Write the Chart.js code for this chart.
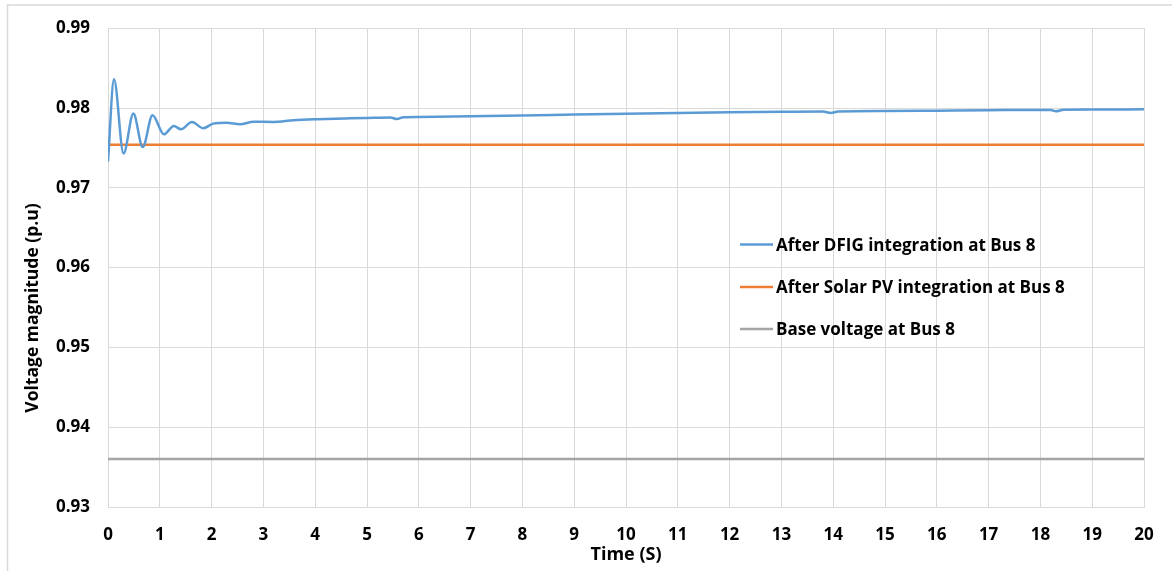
<!DOCTYPE html>
<html>
<head>
<meta charset="utf-8">
<script src="https://cdn.jsdelivr.net/npm/chart.js@4"></script>
<style>
  body { margin: 0; background: #fff; }
  #wrap { width: 1172px; height: 571px; position: relative; }
</style>
</head>
<body>
<div id="wrap"><canvas id="voltChart"></canvas></div>
<script>
// Datos
const seriesNames = [
    'After DFIG integration at Bus 8',
    'After Solar PV integration at Bus 8',
    'Base voltage at Bus 8'
];
const xTitle = 'Time (S)';
const yTitle = 'Voltage magnitude (p.u)';

const dfigTime = [0, 0.116, 0.30, 0.49, 0.67, 0.86, 1.08, 1.27, 1.41, 1.62, 1.84, 2.03, 2.29, 2.55, 2.81,
    3.19, 3.58, 4.03, 4.67, 5.0, 5.45, 5.58, 5.7, 6, 7, 8, 9, 10, 11, 12, 13, 13.8, 13.95, 14.1,
    15, 16, 17, 18, 18.2, 18.3, 18.45, 19, 20];
const dfigVolt = [0.9733, 0.9836, 0.9743, 0.9793, 0.9751, 0.9791, 0.9767, 0.97775, 0.97734, 0.97825, 0.97746,
    0.97804, 0.97816, 0.97796, 0.97829, 0.97825, 0.97846, 0.97859, 0.97871, 0.97876, 0.97882, 0.97862,
    0.97884, 0.97888, 0.97897, 0.97906, 0.97918, 0.97929, 0.97938, 0.97946, 0.97952, 0.97956, 0.97938,
    0.97956, 0.97962, 0.97967, 0.97972, 0.97976, 0.97976, 0.97958, 0.97978, 0.9798, 0.97984];

const endTime = [0, 20];
const solarVolt = [0.97538, 0.97538];
const baseVolt = [0.936, 0.936];

const xTicks = { min: 0, max: 20, step: 1 };
const yTicks = { min: 0.93, max: 0.99, step: 0.01 };

const colors = ['#5B9BD5', '#ED7D31', '#A5A5A5'];
const fontFam = '"Open Sans", Lato, sans-serif';

function toPoints(xs, ys) {
    return xs.map((x, i) => ({ x: x, y: ys[i] }));
}

// Leyenda dibujada dentro del area del grafico + titulo del eje Y
const insideLegend = {
    id: 'insideLegend',
    afterDraw(chart) {
        const ctx = chart.ctx;
        const rows = [244.5, 287, 329];
        ctx.save();
        ctx.font = 'bold 17px ' + fontFam;
        ctx.textBaseline = 'middle';
        ctx.textAlign = 'left';
        chart.data.datasets.forEach((ds, i) => {
            ctx.strokeStyle = ds.borderColor;
            ctx.lineWidth = 2.5;
            ctx.beginPath();
            ctx.moveTo(740, rows[i]);
            ctx.lineTo(773, rows[i]);
            ctx.stroke();
            ctx.fillStyle = '#000';
            ctx.fillText(ds.label, 776, rows[i] + 1.5);
        });
        // titulo del eje Y (desplazado hacia abajo como en el original)
        ctx.translate(33, 308);
        ctx.rotate(-Math.PI / 2);
        ctx.textAlign = 'center';
        ctx.font = 'bold 17.5px ' + fontFam;
        ctx.fillText(yTitle, 0, 0);
        ctx.restore();
    }
};

const frame = {
    id: 'frame',
    beforeDraw(chart) {
        const ctx = chart.ctx;
        ctx.save();
        ctx.fillStyle = '#fff';
        ctx.fillRect(0, 0, chart.width, chart.height);
        ctx.strokeStyle = '#d9d9d9';
        ctx.lineWidth = 1.5;
        ctx.strokeRect(7.5, 5, chart.width + 10, chart.height + 10);
        ctx.restore();
    }
};

window.onload = function() {
    const ctx = document.getElementById('voltChart').getContext('2d');
    new Chart(ctx, {
        type: 'line',
        data: {
            datasets: [{
                label: seriesNames[0],
                data: toPoints(dfigTime, dfigVolt),
                borderColor: colors[0],
                borderWidth: 2.5,
                pointRadius: 0,
                cubicInterpolationMode: 'monotone'
            }, {
                label: seriesNames[1],
                data: toPoints(endTime, solarVolt),
                borderColor: colors[1],
                borderWidth: 2.5,
                pointRadius: 0
            }, {
                label: seriesNames[2],
                data: toPoints(endTime, baseVolt),
                borderColor: colors[2],
                borderWidth: 2.5,
                pointRadius: 0
            }]
        },
        options: {
            responsive: true,
            maintainAspectRatio: false,
            animation: false,
            layout: { padding: { top: 26, right: 28, left: 0, bottom: 0 } },
            plugins: {
                legend: { display: false },
                tooltip: { enabled: false }
            },
            scales: {
                x: {
                    type: 'linear',
                    min: xTicks.min,
                    max: xTicks.max,
                    afterFit: s => { s.height = 64; },
                    grid: { color: '#d9d9d9', drawTicks: false },
                    border: { color: '#d9d9d9' },
                    ticks: {
                        stepSize: xTicks.step,
                        padding: 18,
                        color: '#000',
                        font: { family: fontFam, size: 17, weight: 'bold' }
                    },
                    title: {
                        display: true,
                        text: xTitle,
                        color: '#000',
                        padding: { top: 0, bottom: 5 },
                        font: { family: fontFam, size: 18, weight: 'bold' }
                    }
                },
                y: {
                    min: yTicks.min,
                    max: yTicks.max,
                    afterFit: s => { s.width = 108; },
                    grid: { color: '#d9d9d9', drawTicks: false },
                    border: { color: '#d9d9d9' },
                    ticks: {
                        stepSize: yTicks.step,
                        padding: 18,
                        color: '#000',
                        font: { family: fontFam, size: 17, weight: 'bold' },
                        callback: v => v.toFixed(2)
                    }
                }
            }
        },
        plugins: [frame, insideLegend]
    });
};
</script>
</body>
</html>
